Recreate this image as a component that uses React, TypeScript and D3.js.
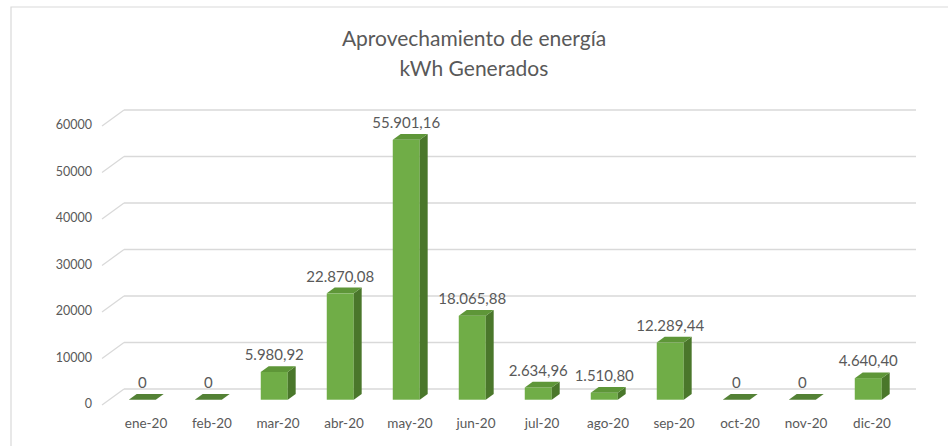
import * as d3 from "d3";

const WIDTH = 948;
const HEIGHT = 446;

// datos
const months = ["ene-20", "feb-20", "mar-20", "abr-20", "may-20", "jun-20", "jul-20", "ago-20", "sep-20", "oct-20", "nov-20", "dic-20"];
const kwh = [0, 0, 5980.92, 22870.08, 55901.16, 18065.88, 2634.96, 1510.8, 12289.44, 0, 0, 4640.4];
const yTicks = [0, 10000, 20000, 30000, 40000, 50000, 60000];

// geometria 3D (caja del grafico)
const FRONT_X = 102;
const FRONT_Y0 = 405; // y del valor 0 en el plano frontal
const DEPTH = { dx: 22, dy: -16 };
const PLOT_W = 792;
const BAR_FRONT = 0.33; // fraccion de profundidad de la cara frontal
const BAR_DEPTH = 0.36;
const BAR_W = 27;

const FONT = "Lato, 'Liberation Sans', sans-serif";
const TEXT = "#595959";

const fmt = (v: number) => {
  if (v === 0) return "0";
  const [ent, dec] = v.toFixed(2).split(".");
  return ent.replace(/\B(?=(\d{3})+(?!\d))/g, ".") + "," + dec;
};

export default function App() {
  const xScale = d3.scaleBand().domain(months).range([0, PLOT_W]);
  // altura por valor (plano frontal)
  const hScale = d3.scaleLinear().domain([0, 60000]).range([0, 279]);

  // punto en profundidad f (0 = frente, 1 = fondo)
  const px = (x: number, f: number) => FRONT_X + x + DEPTH.dx * f;
  const py = (v: number, f: number) => FRONT_Y0 - hScale(v) + DEPTH.dy * f;

  const grid = yTicks.map((t) => (
    <g key={t}>
      <line x1={px(0, 0)} y1={py(t, 0)} x2={px(0, 1)} y2={py(t, 1)} stroke="#d9d9d9" strokeWidth={1.3} />
      <line x1={px(0, 1)} y1={py(t, 1)} x2={px(PLOT_W, 1)} y2={py(t, 1)} stroke="#d9d9d9" strokeWidth={1.3} />
      <text x={92} y={py(t, 0)} textAnchor="end" dominantBaseline="middle" fontSize={12.5} fill={TEXT} fontFamily={FONT}>
        {t}
      </text>
    </g>
  ));

  const bars = months.map((m, i) => {
    const v = kwh[i];
    const xl = (xScale(m) as number) + (xScale.bandwidth() - BAR_W) / 2;
    const f0 = BAR_FRONT;
    const f1 = BAR_FRONT + BAR_DEPTH;
    const fl = px(xl, f0);
    const fr = px(xl + BAR_W, f0);
    const ft = py(v, f0);
    const fb = py(0, f0);
    const bl = px(xl, f1);
    const br = px(xl + BAR_W, f1);
    const bt = py(v, f1);
    const bb = py(0, f1);
    const top = `M${fl},${ft} L${fr},${ft} L${br},${bt} L${bl},${bt} Z`;
    const side = `M${fr},${ft} L${br},${bt} L${br},${bb} L${fr},${fb} Z`;
    return (
      <g key={m}>
        {v > 0 && <rect x={fl} y={ft} width={BAR_W} height={fb - ft} fill="#70ad47" />}
        {v > 0 && <path d={side} fill="#4a772b" />}
        <path d={top} fill={v > 0 ? "#5e9638" : "#538135"} />
        <text x={(fl + fr) / 2} y={bt - 6} textAnchor="middle" fontSize={15} fill={TEXT} fontFamily={FONT}>
          {fmt(v)}
        </text>
      </g>
    );
  });

  const xLabels = months.map((m) => (
    <text
      key={m}
      x={px((xScale(m) as number) + xScale.bandwidth() / 2, 0.5)}
      y={425}
      textAnchor="middle"
      dominantBaseline="middle"
      fontSize={13.5}
      fill={TEXT}
      fontFamily={FONT}
    >
      {m}
    </text>
  ));

  return (
    <div style={{ position: "absolute", left: 0, top: 0 }}>
      <svg width={WIDTH} height={HEIGHT} style={{ display: "block", background: "#fff" }}>
        <path d={`M11,${HEIGHT} L11,7 L${WIDTH},7`} fill="none" stroke="#d9d9d9" strokeWidth={1.2} />
        <text x={474} y={46} textAnchor="middle" fontSize={21} fill={TEXT} fontFamily={FONT}>
          Aprovechamiento de energía
        </text>
        <text x={474} y={76} textAnchor="middle" fontSize={21} fill={TEXT} fontFamily={FONT}>
          kWh Generados
        </text>
        {grid}
        {bars}
        {xLabels}
      </svg>
    </div>
  );
}
